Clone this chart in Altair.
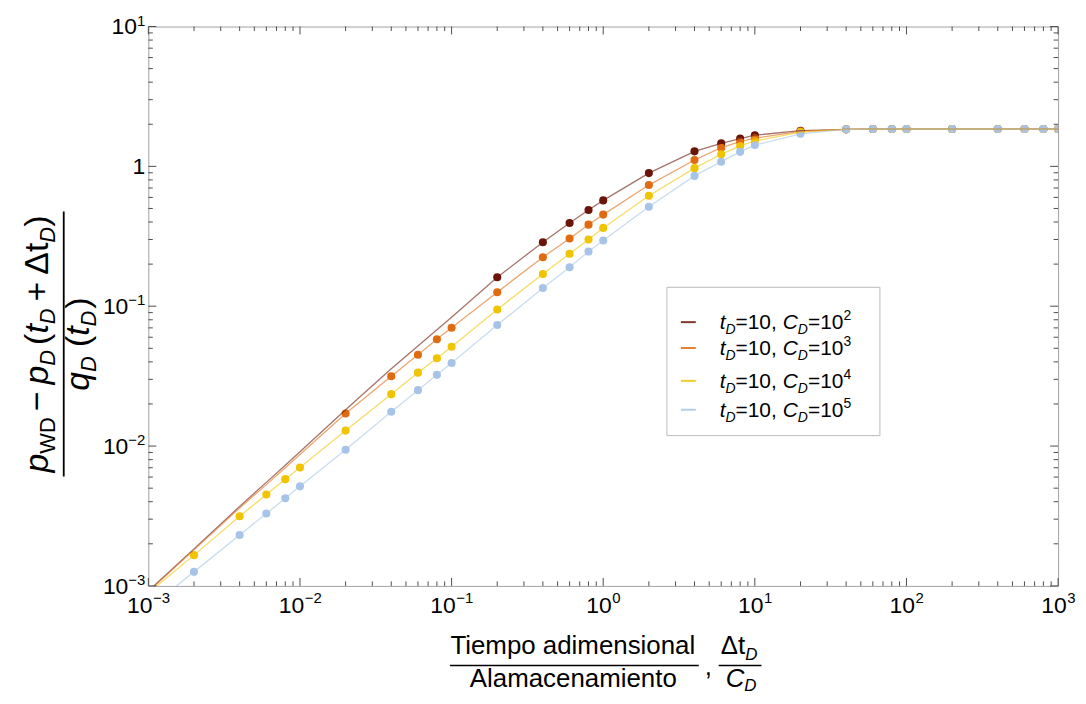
import altair as alt
import pandas as pd

FONT = "Liberation Sans"
W, H = 914, 562

# ---------------- data ----------------
x_vals = [0.001, 0.002, 0.004, 0.006, 0.008, 0.01, 0.02, 0.04, 0.06, 0.08, 0.1,
          0.2, 0.4, 0.6, 0.8, 1, 2, 4, 6, 8, 10, 20, 40, 60, 80, 100, 200, 400,
          600, 800, 1000]
cd2_vals = [0.00092, 0.00184, 0.0037, 0.0055, 0.0073, 0.0091, 0.0182, 0.0357, 0.052, 0.068, 0.0835,
            0.161, 0.287, 0.394, 0.488, 0.571, 0.895, 1.28, 1.46, 1.58, 1.67, 1.80, 1.84, 1.85,
            1.85, 1.85, 1.85, 1.85, 1.85, 1.85, 1.85]
cd3_vals = [0.00091, 0.00181, 0.0036, 0.0053, 0.0070, 0.0087, 0.0171, 0.0316, 0.045, 0.058, 0.0701,
            0.126, 0.224, 0.305, 0.383, 0.452, 0.735, 1.11, 1.36, 1.50, 1.59, 1.78, 1.84, 1.85,
            1.85, 1.85, 1.85, 1.85, 1.85, 1.85, 1.85]
cd4_vals = [0.00089, 0.00166, 0.00315, 0.0045, 0.0058, 0.00703, 0.0129, 0.0235, 0.0335, 0.0425, 0.0513,
            0.0947, 0.170, 0.237, 0.300, 0.363, 0.617, 0.971, 1.22, 1.40, 1.52, 1.76, 1.84, 1.85,
            1.85, 1.85, 1.85, 1.85, 1.85, 1.85, 1.85]
cd5_vals = [0.00069, 0.00126, 0.00231, 0.00329, 0.00423, 0.00515, 0.0094, 0.0176, 0.0251, 0.0323, 0.0393,
            0.0733, 0.135, 0.190, 0.246, 0.295, 0.515, 0.855, 1.08, 1.27, 1.42, 1.71, 1.84, 1.85,
            1.85, 1.85, 1.85, 1.85, 1.85, 1.85, 1.85]
series_names = ["CD=10^2", "CD=10^3", "CD=10^4", "CD=10^5"]
series_exps = ["2", "3", "4", "5"]
point_start = [0.2, 0.02, 0.002, 0.002]
series_colors = ["#6b1508", "#e06b10", "#f0c400", "#a7c4e8"]

x_major = [1e-3, 1e-2, 1e-1, 1, 10, 100, 1000]
x_exps = ["\u22123", "\u22122", "\u22121", "0", "1", "2", "3"]
y_major = [1e-3, 1e-2, 1e-1, 1, 10]
y_bases = ["10", "10", "10", "1", "10"]
y_exps = ["\u22123", "\u22122", "\u22121", "", "1"]
x_minor = [m * 10.0 ** k for k in range(-3, 3) for m in range(2, 10)]
y_minor = [m * 10.0 ** k for k in range(-3, 1) for m in range(2, 10)]

# ---------------- helpers ----------------
NB = "\u00a0"
EM = {c: 0.556 for c in "0123456789abdeghnopqu"}
EM.update({" ": 0.278, NB: 0.278, ",": 0.278, "=": 0.584, "+": 0.584, "\u2212": 0.584, "-": 0.333,
           "(": 0.333, ")": 0.333, "\u0394": 0.668, "T": 0.611, "A": 0.667, "C": 0.722,
           "D": 0.722, "W": 0.944, "c": 0.5, "s": 0.5, "i": 0.222, "l": 0.222, "m": 0.833,
           "t": 0.278, "q": 0.556})


def tw(s, size):
    return sum(EM.get(c, 0.556) for c in s) * size


ONE = alt.InlineData(values=[{"k": 0}])


def txt(text, x, y, size, italic=False, align="left", angle=0, dx=0.0, dy=0.0):
    m = dict(text=text, fontSize=size, font=FONT, align=align, baseline="alphabetic",
             dx=dx, dy=dy, color="black")
    if italic:
        m["fontStyle"] = "italic"
    if angle:
        m["angle"] = angle
    return alt.Chart(ONE).mark_text(**m).encode(x=alt.value(x), y=alt.value(y))


def rich(pieces, x, y, angle=0, center=False):
    # pieces: (text, size, italic, baseline shift); a text of "" with size = gap in px
    def width(t, s):
        return s if t == "" else tw(t, s)
    total = sum(width(t, s) for t, s, it, sh in pieces)
    cum = -total / 2 if center else 0.0
    out = []
    for t, s, it, sh in pieces:
        if t:
            out.append(txt(t, x, y, s, italic=it, angle=angle, dx=cum, dy=sh))
        cum += width(t, s)
    return out, total


def rule(x, x2, y, y2, width=1.5, color="black"):
    return alt.Chart(ONE).mark_rule(color=color, strokeWidth=width).encode(
        x=alt.value(x), x2=alt.value(x2), y=alt.value(y), y2=alt.value(y2))


XS = alt.Scale(type="log", domain=[1e-3, 1e3])
YS = alt.Scale(type="log", domain=[1e-3, 10])

# ---------------- series table ----------------
rows = []
for name, vals, start in zip(series_names, [cd2_vals, cd3_vals, cd4_vals, cd5_vals], point_start):
    for xv, yv in zip(x_vals, vals):
        rows.append({"series": name, "x": xv, "y": yv, "pt": xv >= start * 0.999})
df = pd.DataFrame(rows)

color = alt.Color("series:N", scale=alt.Scale(domain=series_names, range=series_colors), legend=None)

points = alt.Chart(df).transform_filter("datum.pt").mark_circle(size=66, opacity=1, clip=True).encode(
    x=alt.X("x:Q", scale=XS, axis=None), y=alt.Y("y:Q", scale=YS, axis=None), color=color)
lines = alt.Chart(df).mark_line(strokeWidth=1.3, opacity=0.6, clip=True).encode(
    x=alt.X("x:Q", scale=XS, axis=None), y=alt.Y("y:Q", scale=YS, axis=None), color=color,
    detail="series:N")

layers = [points, lines]

# ---------------- ticks (inside frame, all four sides) ----------------
TICK = "#4d4d4d"
for vals, ln in [(x_major, 8), (x_minor, 4.5)]:
    d = pd.DataFrame({"v": vals})
    layers.append(alt.Chart(d).mark_rule(color=TICK, strokeWidth=1).encode(
        x=alt.X("v:Q", scale=XS, axis=None), y=alt.value(H), y2=alt.value(H - ln)))
    layers.append(alt.Chart(d).mark_rule(color=TICK, strokeWidth=1).encode(
        x=alt.X("v:Q", scale=XS, axis=None), y=alt.value(0), y2=alt.value(ln)))
for vals, ln in [(y_major, 8), (y_minor, 4.5)]:
    d = pd.DataFrame({"v": vals})
    layers.append(alt.Chart(d).mark_rule(color=TICK, strokeWidth=1).encode(
        y=alt.Y("v:Q", scale=YS, axis=None), x=alt.value(0), x2=alt.value(ln)))
    layers.append(alt.Chart(d).mark_rule(color=TICK, strokeWidth=1).encode(
        y=alt.Y("v:Q", scale=YS, axis=None), x=alt.value(W), x2=alt.value(W - ln)))

# ---------------- tick labels ----------------
LS, ES = 23, 15
for v, e in zip(x_major, x_exps):
    bw, ew = tw("10", LS), tw(e, ES)
    start = -(bw + ew) / 2
    d = pd.DataFrame({"v": [v]})
    layers.append(alt.Chart(d).mark_text(text="10", font=FONT, fontSize=LS, align="left",
                                         baseline="alphabetic", dx=start, color="black").encode(
        x=alt.X("v:Q", scale=XS, axis=None), y=alt.value(H + 27)))
    layers.append(alt.Chart(d).mark_text(text=e, font=FONT, fontSize=ES, align="left",
                                         baseline="alphabetic", dx=start + bw + 0.5, color="black").encode(
        x=alt.X("v:Q", scale=XS, axis=None), y=alt.value(H + 17)))
for v, b, e in zip(y_major, y_bases, y_exps):
    ew = tw(e, ES)
    d = pd.DataFrame({"v": [v]})
    layers.append(alt.Chart(d).mark_text(text=b, font=FONT, fontSize=LS, align="right",
                                         baseline="alphabetic", dy=8, color="black").encode(
        y=alt.Y("v:Q", scale=YS, axis=None), x=alt.value(-3 - ew)))
    if e:
        layers.append(alt.Chart(d).mark_text(text=e, font=FONT, fontSize=ES, align="right",
                                             baseline="alphabetic", dy=-1, color="black").encode(
            y=alt.Y("v:Q", scale=YS, axis=None), x=alt.value(-3)))

# ---------------- axis titles ----------------
TS, SS, SH = 26, 17, 6
# x title: Tiempo adimensional / Alamacenamiento , Δt_D / C_D
layers += rich([("Tiempo adimensional", TS, False, 0)], 427, 630, center=True)[0]
layers.append(rule(303, 553, 642, 642))
layers += rich([("Alamacenamiento", TS, False, 0)], 427, 664, center=True)[0]
layers += rich([(",", TS, False, 0)], 559, 652)[0]
layers += rich([("\u0394t", TS, False, 0), ("D", SS, True, SH)], 575, 630)[0]
layers.append(rule(573, 616, 642, 642))
layers += rich([("C", TS, True, 0), ("D", SS, True, 4)], 580, 664)[0]

# y title (rotated): p_WD - p_D(t_D + Δt_D) / q_D(t_D)
YT, YSS, YSH = 34, 22, 7
num = [("p", YT, True, 0), ("WD", YSS, False, YSH), ("", 6, False, 0), ("\u2212", YT, False, 0),
       ("", 7, False, 0), ("p", YT, True, 0), ("D", YSS, True, YSH), ("", 5, False, 0),
       ("(", YT, False, 0), ("t", YT, True, 0), ("D", YSS, True, YSH), ("", 7, False, 0),
       ("+", YT, False, 0), ("", 7, False, 0), ("\u0394t", YT, False, 0), ("D", YSS, True, YSH),
       (")", YT, False, 0)]
den = [("q", YT, True, 0), ("D", YSS, True, YSH), ("", 9, False, 0), ("(", YT, False, 0),
       ("t", YT, True, 0), ("D", YSS, True, YSH), ("", 2, False, 0), (")", YT, False, 0)]
YC = 319
l, numw = rich(num, -101, YC, angle=270, center=True)
layers += l
layers.append(rule(-85, -85, YC - numw / 2 - 4, YC + numw / 2 + 4, width=1.8))
layers += rich(den, -60, YC, angle=270, center=True)[0]

# ---------------- legend ----------------
layers.append(alt.Chart(ONE).mark_rect(fill="white", stroke="#bbbbbb", strokeWidth=1).encode(
    x=alt.value(521), x2=alt.value(735), y=alt.value(262), y2=alt.value(411)))
row_y = [297, 323, 356, 385]
for ry, col, ex in zip(row_y, series_colors, series_exps):
    layers.append(alt.Chart(ONE).mark_rule(color=col, strokeWidth=2, opacity=0.85).encode(
        x=alt.value(535), x2=alt.value(550), y=alt.value(ry)))
    pieces = [("t", 21, True, 0), ("D", 14, True, 5), ("=10,", 21, False, 0), ("", 6, False, 0),
              ("C", 21, True, 0), ("D", 14, True, 5), ("=10", 21, False, 0), (ex, 14, False, -9)]
    layers += rich(pieces, 574, ry + 7)[0]

chart = alt.layer(*layers).properties(
    width=W, height=H, autosize="none",
    padding={"left": 141, "top": 17, "right": 20, "bottom": 109},
).configure_view(stroke="#a0a0a0", strokeWidth=1)

chart.save("out.html", embed_options={"renderer": "svg", "actions": False})
